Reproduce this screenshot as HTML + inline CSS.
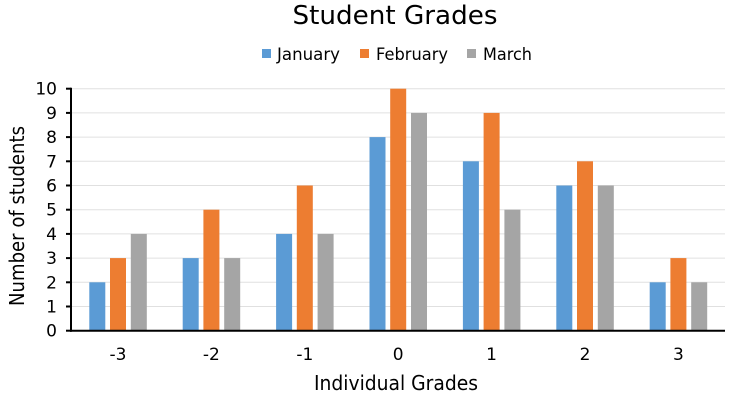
<!DOCTYPE html>
<html><head><meta charset="utf-8"><style>body{margin:0;background:#fff}svg{display:block}text{font-family:"DejaVu Sans","Liberation Sans",sans-serif;fill:#000}</style></head><body>
<svg width="732" height="400" xmlns="http://www.w3.org/2000/svg">
<rect width="732" height="400" fill="#fff"/>
<text x="395" y="24" font-size="26" text-anchor="middle" textLength="205" lengthAdjust="spacingAndGlyphs">Student Grades</text>
<rect x="262" y="49" width="9" height="9" fill="#5b9bd5"/><text x="277" y="60" font-size="17" textLength="63" lengthAdjust="spacingAndGlyphs">January</text>
<rect x="360" y="49" width="9" height="9" fill="#ed7d31"/><text x="376" y="60" font-size="17" textLength="72" lengthAdjust="spacingAndGlyphs">February</text>
<rect x="467" y="49" width="9" height="9" fill="#a5a5a5"/><text x="483" y="60" font-size="17" textLength="49" lengthAdjust="spacingAndGlyphs">March</text>
<g id="grid" stroke="#e0e0e0" stroke-width="1"></g>
<g id="bars"></g>
<g id="axes"></g>
<text transform="translate(24,216) rotate(-90)" font-size="20" text-anchor="middle" textLength="180" lengthAdjust="spacingAndGlyphs">Number of students</text>
<text x="396" y="390" font-size="20" text-anchor="middle" textLength="164" lengthAdjust="spacingAndGlyphs">Individual Grades</text>
<script>
var ns="http://www.w3.org/2000/svg",g=document.getElementById("grid"),b=document.getElementById("bars"),a=document.getElementById("axes");
function el(p,t,at,tx){var e=document.createElementNS(ns,t);for(var k in at)e.setAttribute(k,at[k]);if(tx!=null)e.textContent=tx;p.appendChild(e);return e;}
var y0=330.7,u=24.2;
for(var k=0;k<=10;k++){var y=y0-u*k;if(k>0)el(g,"line",{x1:71,x2:725,y1:y,y2:y});
el(a,"line",{x1:66,x2:71,y1:y,y2:y,stroke:"#000","stroke-width":2});
el(a,"text",{x:57,y:y+6,"font-size":17,"text-anchor":"end"},k);}
el(a,"line",{x1:71,x2:71,y1:y0-u*10-1,y2:y0+1,stroke:"#000","stroke-width":2});
el(a,"line",{x1:70,x2:725,y1:y0,y2:y0,stroke:"#000","stroke-width":2});
var d=[[2,3,4,8,7,6,2],[3,5,6,10,9,7,3],[4,3,4,9,5,6,2]],c=["#5b9bd5","#ed7d31","#a5a5a5"],off=[0,20.7,41.5];
for(var i=0;i<7;i++){for(var s=0;s<3;s++){var h=d[s][i]*u;el(b,"rect",{x:89.3+93.4*i+off[s],y:y0-h,width:16,height:h,fill:c[s]});}
el(a,"text",{x:118+93.4*i,y:360,"font-size":17,"text-anchor":"middle"},i-3);}
</script>
</svg>
</body></html>
